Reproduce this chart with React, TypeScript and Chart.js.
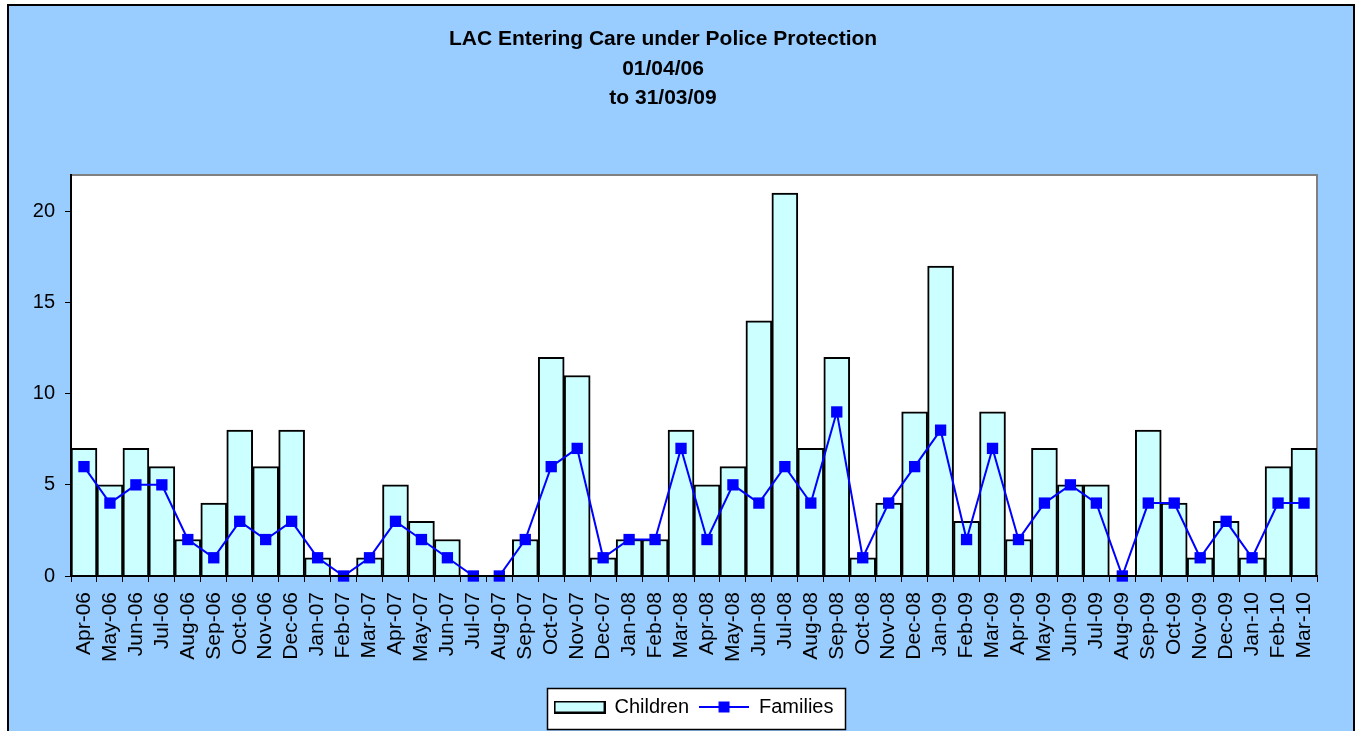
import React, { useEffect, useRef } from "react";
import { Chart, registerables } from "chart.js";

Chart.register(...registerables);

const months = [
  "Apr-06", "May-06", "Jun-06", "Jul-06", "Aug-06", "Sep-06", "Oct-06", "Nov-06", "Dec-06", "Jan-07", "Feb-07", "Mar-07",
  "Apr-07", "May-07", "Jun-07", "Jul-07", "Aug-07", "Sep-07", "Oct-07", "Nov-07", "Dec-07", "Jan-08", "Feb-08", "Mar-08",
  "Apr-08", "May-08", "Jun-08", "Jul-08", "Aug-08", "Sep-08", "Oct-08", "Nov-08", "Dec-08", "Jan-09", "Feb-09", "Mar-09",
  "Apr-09", "May-09", "Jun-09", "Jul-09", "Aug-09", "Sep-09", "Oct-09", "Nov-09", "Dec-09", "Jan-10", "Feb-10", "Mar-10",
];

const children = [
  7, 5, 7, 6, 2, 4, 8, 6, 8, 1, 0, 1,
  5, 3, 2, 0, 0, 2, 12, 11, 1, 2, 2, 8,
  5, 6, 14, 21, 7, 12, 1, 4, 9, 17, 3, 9,
  2, 7, 5, 5, 0, 8, 4, 1, 3, 1, 6, 7,
];

const families = [
  6, 4, 5, 5, 2, 1, 3, 2, 3, 1, 0, 1,
  3, 2, 1, 0, 0, 2, 6, 7, 1, 2, 2, 7,
  2, 5, 4, 6, 4, 9, 1, 4, 6, 8, 2, 7,
  2, 4, 5, 4, 0, 4, 4, 1, 3, 1, 4, 4,
];

const titleLines = ["LAC Entering Care under Police Protection", "01/04/06", "to 31/03/09"];
const seriesNames = ["Children", "Families"];
const yTicks = [0, 5, 10, 15, 20];
const yMin = 0;
const yMax = 22;

const FONT = "'Liberation Sans', Arial, Helvetica, sans-serif";
const BAR_FILL = "#CCFFFF";
const LINE_COLOR = "#0000FF";
const LEGEND_PAD = 10;

function makeBarSymbol() {
  const c = document.createElement("canvas");
  c.width = 52;
  c.height = 13;
  const g = c.getContext("2d")!;
  g.fillStyle = BAR_FILL;
  g.fillRect(1, 1, 50, 11);
  g.strokeStyle = "#000";
  g.lineWidth = 2;
  g.strokeRect(1, 1, 50, 11);
  return c;
}

function makeLineSymbol() {
  const c = document.createElement("canvas");
  c.width = 50;
  c.height = 12;
  const g = c.getContext("2d")!;
  g.strokeStyle = LINE_COLOR;
  g.lineWidth = 2;
  g.beginPath();
  g.moveTo(0, 6);
  g.lineTo(50, 6);
  g.stroke();
  g.fillStyle = LINE_COLOR;
  g.fillRect(19.5, 0.5, 11, 11);
  return c;
}

export default function App() {
  const ref = useRef<HTMLCanvasElement>(null);

  useEffect(() => {
    if (!ref.current) return;
    const barSym = makeBarSymbol();
    const lineSym = makeLineSymbol();

    const decor = {
      id: "decor",
      beforeDraw(chart: any) {
        const { ctx, chartArea: a } = chart;
        ctx.save();
        ctx.fillStyle = "#FFFFFF";
        ctx.fillRect(a.left, a.top, a.right - a.left, a.bottom - a.top);
        ctx.strokeStyle = "#808080";
        ctx.lineWidth = 2;
        ctx.beginPath();
        ctx.moveTo(a.left, a.top);
        ctx.lineTo(a.right, a.top);
        ctx.lineTo(a.right, a.bottom);
        ctx.stroke();
        const lg = chart.legend;
        if (lg && lg.lineWidths && lg.lineWidths.length) {
          const rowW = lg.lineWidths[0] - LEGEND_PAD;
          const x0 = (lg.left + lg.right - rowW) / 2;
          const cy = lg.top + LEGEND_PAD + 10;
          const bx = Math.round(x0 - 8) + 0.5;
          const by = Math.round(cy - 19) + 0.5;
          const bw = Math.round(rowW + 19);
          ctx.fillStyle = "#FFFFFF";
          ctx.fillRect(bx, by, bw, 41);
          ctx.strokeStyle = "#000";
          ctx.lineWidth = 1.5;
          ctx.strokeRect(bx, by, bw, 41);
        }
        ctx.restore();
      },
    };

    const chart = new Chart(ref.current, {
      type: "bar",
      data: {
        labels: months,
        datasets: [
          {
            type: "bar",
            label: seriesNames[0],
            data: children,
            backgroundColor: BAR_FILL,
            borderColor: "#000000",
            borderWidth: 2,
            categoryPercentage: 1,
            barPercentage: 1,
            order: 2,
          } as any,
          {
            type: "line",
            label: seriesNames[1],
            data: families,
            borderColor: LINE_COLOR,
            backgroundColor: LINE_COLOR,
            borderWidth: 2,
            pointStyle: "rect",
            pointRadius: 8,
            pointBackgroundColor: LINE_COLOR,
            pointBorderColor: LINE_COLOR,
            pointBorderWidth: 0,
            tension: 0,
            clip: false,
            order: 1,
          } as any,
        ],
      },
      options: {
        responsive: false,
        animation: false,
        layout: { padding: { left: 0, right: 36, top: 0, bottom: 4 } },
        plugins: {
          tooltip: { enabled: false },
          title: {
            display: true,
            text: titleLines,
            color: "#000000",
            font: { family: FONT, size: 21, weight: "bold", lineHeight: 1.42 },
            padding: { top: 18, bottom: 61.5 },
          },
          legend: {
            display: true,
            position: "bottom",
            fullSize: false,
            labels: {
              usePointStyle: true,
              pointStyleWidth: 50,
              padding: LEGEND_PAD,
              color: "#000000",
              font: { family: FONT, size: 20 },
              generateLabels: () => [
                { text: seriesNames[0], pointStyle: barSym, datasetIndex: 0, hidden: false, lineWidth: 0, fillStyle: BAR_FILL, strokeStyle: "#000", fontColor: "#000" },
                { text: seriesNames[1], pointStyle: lineSym, datasetIndex: 1, hidden: false, lineWidth: 0, fillStyle: LINE_COLOR, strokeStyle: LINE_COLOR, fontColor: "#000" },
              ] as any,
            },
          },
        },
        scales: {
          x: {
            type: "category",
            offset: true,
            grid: { offset: true, drawOnChartArea: false, drawTicks: true, tickLength: 6, color: "#000000", lineWidth: 1 },
            border: { display: true, color: "#000000", width: 2, z: 1 } as any,
            ticks: {
              minRotation: 90,
              maxRotation: 90,
              autoSkip: false,
              padding: 10,
              color: "#000000",
              font: { family: FONT, size: 21 },
            },
            afterFit: (s: any) => {
              s.height = 111;
            },
          },
          y: {
            type: "linear",
            min: yMin,
            max: yMax,
            grid: { drawOnChartArea: false, drawTicks: true, tickLength: 6, color: "#000000", lineWidth: 1 },
            border: { display: true, color: "#000000", width: 2, z: 1 } as any,
            ticks: {
              stepSize: 5,
              includeBounds: false,
              padding: 10,
              color: "#000000",
              font: { family: FONT, size: 20 },
            } as any,
            afterBuildTicks: (s: any) => {
              s.ticks = yTicks.map((v) => ({ value: v }));
            },
            afterFit: (s: any) => {
              s.width = 62;
            },
          },
        },
      },
      plugins: [decor],
    } as any);

    return () => chart.destroy();
  }, []);

  return (
    <div
      style={{
        position: "fixed",
        left: 7,
        top: 4,
        width: 1344,
        height: 725,
        borderTop: "2px solid #000",
        borderLeft: "2px solid #000",
        borderRight: "2px solid #000",
        background: "#99CCFF",
        overflow: "hidden",
      }}
    >
      <canvas ref={ref} width={1344} height={725} style={{ display: "block", width: 1344, height: 725 }} />
    </div>
  );
}
